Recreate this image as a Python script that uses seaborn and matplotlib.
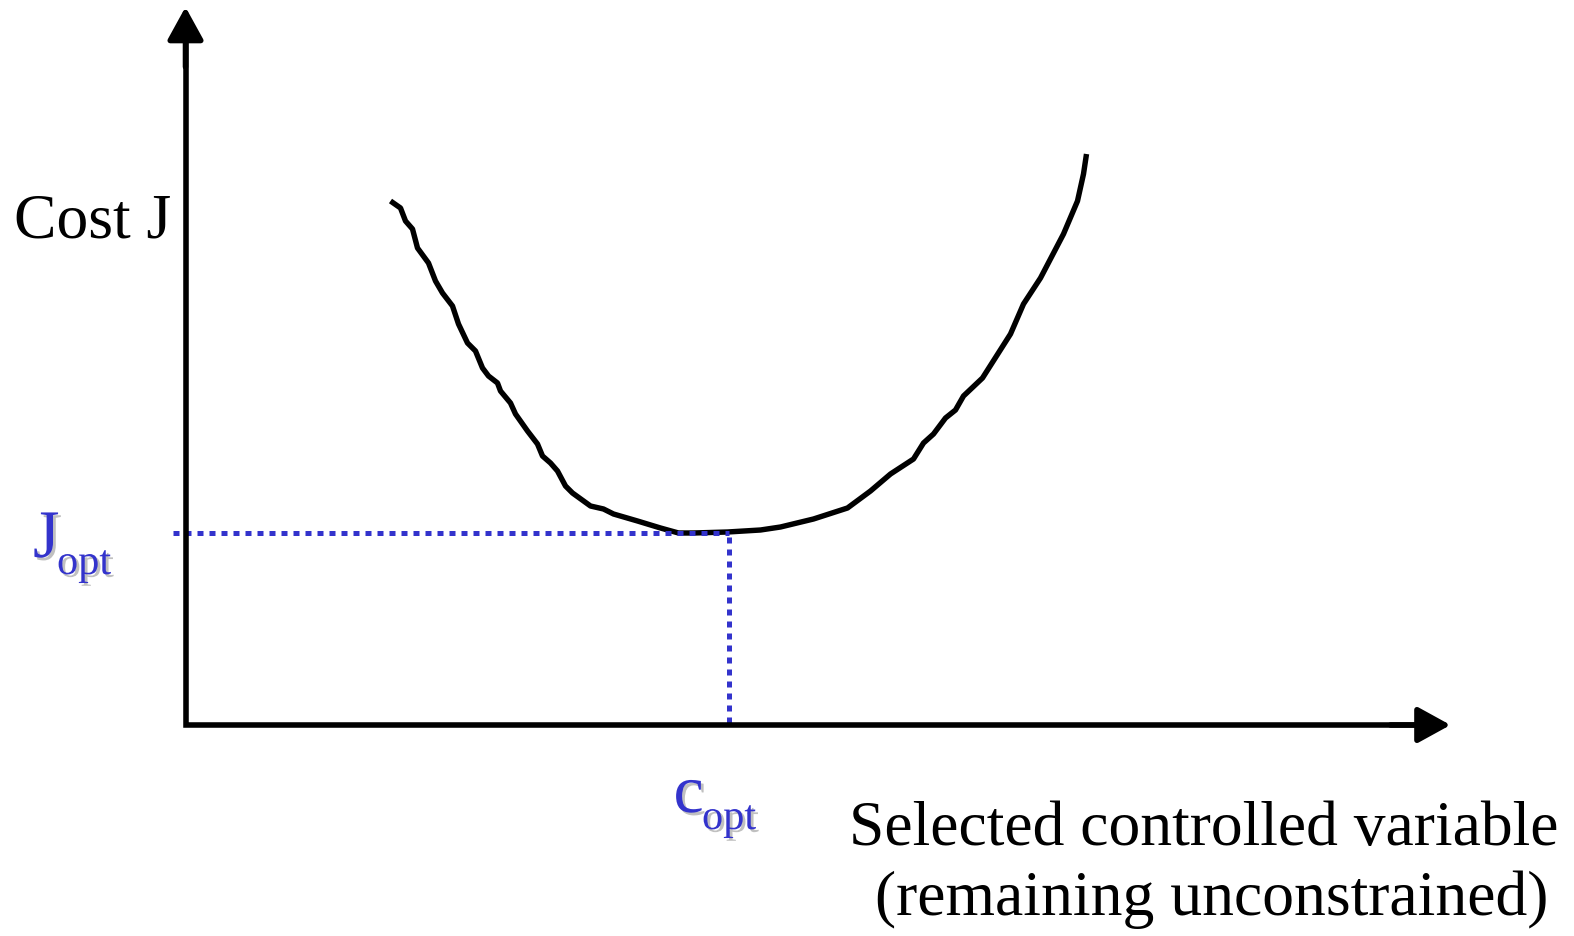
import numpy as np
import pandas as pd
import matplotlib
matplotlib.use('Agg')
import matplotlib.pyplot as plt
import matplotlib.patheffects as pe
import seaborn as sns

# curve (origin at the axis corner, pixel-ish units)
cv = [205, 215, 220, 227, 232, 243, 250, 257, 267, 273, 282, 290, 297, 303, 312, 315,
      325, 330, 342, 352, 357, 365, 372, 380, 387, 405, 418, 428, 452, 475, 493, 508,
      542, 575, 595, 628, 662, 685, 705, 728, 738, 748, 760, 770, 778, 797, 825, 838,
      855, 878, 892, 898, 901]
cost = [524, 517, 504, 496, 477, 462, 444, 432, 419, 401, 382, 374, 357, 349, 342, 334,
        322, 311, 294, 281, 269, 262, 254, 239, 232, 219, 216, 211, 204, 197, 192, 192,
        193, 195, 198, 206, 217, 234, 251, 266, 282, 291, 307, 315, 329, 347, 391, 421,
        447, 491, 524, 551, 571]
c_opt = 543
J_opt = 192
x_end = 1265
y_end = 718

blue = '#3333CC'

sns.set_theme(style='white')
plt.rcParams['font.family'] = ['Liberation Serif', 'DejaVu Serif']

fig = plt.figure(figsize=(15.74, 9.37), dpi=100)
ax = fig.add_axes([0, 0, 1, 1])
ax.set_xlim(-185.5, 1388.5)
ax.set_ylim(-211, 726)
ax.axis('off')

df = pd.DataFrame({'c': cv, 'J': cost})
sns.lineplot(data=df, x='c', y='J', sort=False, color='black', lw=3.9, ax=ax,
             solid_joinstyle='round', solid_capstyle='butt')

# dotted guides to the optimum
ax.plot([-13, c_opt], [J_opt, J_opt], color=blue, lw=3.6, dashes=(1.2, 1.2),
        dash_capstyle='butt')
ax.plot([c_opt, c_opt], [J_opt - 4, 0], color=blue, lw=3.6, dashes=(1.2, 1.2),
        dash_capstyle='butt')

# axes with arrow heads
ax.plot([0, 0, x_end - 30], [y_end - 30, 0, 0], color='black', lw=4,
        solid_joinstyle='miter', solid_capstyle='butt')
arrow = dict(arrowstyle='-|>,head_length=1.0,head_width=0.55', lw=4, color='black',
             mutation_scale=20, shrinkA=0, shrinkB=0)
ax.annotate('', xy=(0, y_end), xytext=(0, y_end - 60), arrowprops=arrow)
ax.annotate('', xy=(x_end, 0), xytext=(x_end - 60, 0), arrowprops=arrow)

shadow = [pe.SimplePatchShadow(offset=(2, -2), shadow_rgbFace='#C0C0C0', alpha=1), pe.Normal()]

ax.text(-171.5, 488, 'Cost J', fontsize=45.8, ha='left', va='baseline', color='black')

ax.text(-152.5, 168, 'J', fontsize=49, ha='left', va='baseline', color=blue, path_effects=shadow)
ax.text(-128.5, 151, 'opt', fontsize=30.5, ha='left', va='baseline', color=blue, path_effects=shadow)
ax.text(488, -87, 'c', fontsize=49, ha='left', va='baseline', color=blue, path_effects=shadow)
ax.text(516.5, -104, 'opt', fontsize=30.5, ha='left', va='baseline', color=blue, path_effects=shadow)

ax.text(1018.5, -119, 'Selected controlled variable', fontsize=45.8,
        ha='center', va='baseline', color='black')
ax.text(1026.5, -189, '(remaining unconstrained)', fontsize=45.8,
        ha='center', va='baseline', color='black')

plt.savefig('out.png', dpi=100)
